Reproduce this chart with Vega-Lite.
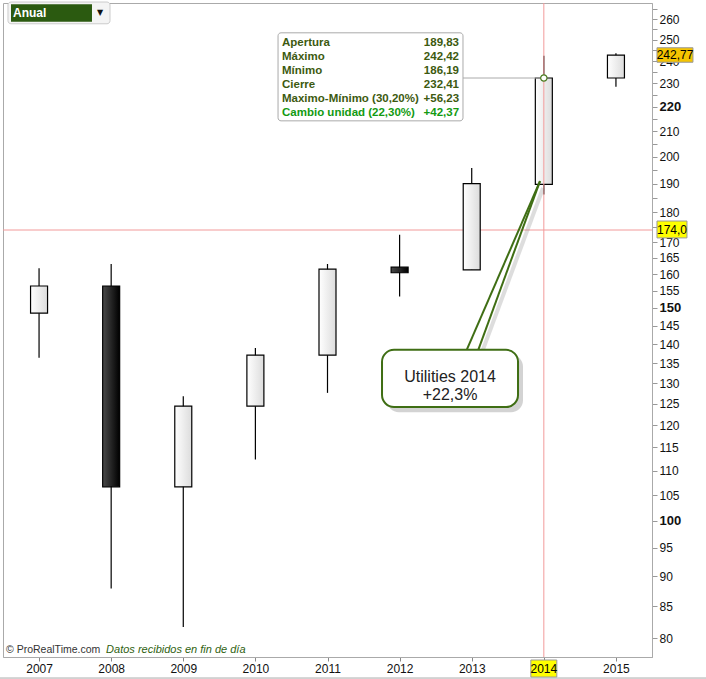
{
  "$schema": "https://vega.github.io/schema/vega-lite/v6.json",
  "width": 649,
  "height": 654,
  "autosize": {"type": "none"},
  "padding": {"left": 3, "top": 3, "right": 54, "bottom": 22},
  "background": "white",
  "config": {
    "view": {"stroke": "#aaaaaa", "strokeWidth": 1},
    "font": "Liberation Sans"
  },
  "layer": [
    {
      "data": {"values": [{}]},
      "mark": {"type": "rule", "color": "#f29a9a", "strokeWidth": 1},
      "encoding": {"y": {"datum": 174, "type": "quantitative"}}
    },
    {
      "data": {
        "name": "candles",
        "values": [
          {"year": 2007, "open": 148.5, "high": 161.8, "low": 136.4, "close": 156.4},
          {"year": 2008, "open": 156.4, "high": 163.1, "low": 87.9, "close": 106.7},
          {"year": 2009, "open": 106.7, "high": 126.8, "low": 81.7, "close": 124.4},
          {"year": 2010, "open": 124.4, "high": 139.0, "low": 112.4, "close": 137.1},
          {"year": 2011, "open": 137.1, "high": 163.1, "low": 127.6, "close": 161.5},
          {"year": 2012, "open": 162.1, "high": 172.4, "low": 153.3, "close": 160.4},
          {"year": 2013, "open": 161.3, "high": 195.8, "low": 161.3, "close": 190.04},
          {"year": 2014, "open": 189.83, "high": 242.42, "low": 186.19, "close": 232.41},
          {"year": 2015, "open": 232.41, "high": 243.6, "low": 228.6, "close": 242.77}
        ]
      },
      "layer": [
        {
          "mark": {"type": "rule", "color": "#000000", "strokeWidth": 1.2},
          "encoding": {
            "x": {
              "field": "year", "type": "quantitative", "title": null,
              "scale": {"domain": [2006.5, 2015.5], "nice": false, "zero": false, "padding": 0},
              "axis": {
                "title": null,
                "values": [2007, 2008, 2009, 2010, 2011, 2012, 2013, 2014, 2015],
                "format": "d",
                "labelExpr": "datum.value == 2014 ? '' : datum.label",
                "labelFont": "Liberation Sans",
                "labelFontSize": 12,
                "labelColor": "#111111",
                "labelPadding": 2,
                "labelFlush": false,
                "labelOverlap": false,
                "tickColor": "#888888",
                "tickSize": 4,
                "domainColor": "#aaaaaa",
                "grid": false
              }
            },
            "y": {
              "field": "low", "type": "quantitative", "title": null,
              "scale": {"type": "log", "domain": [77.16, 268.1], "nice": false, "zero": false, "padding": 0},
              "axis": {
                "title": null,
                "orient": "right",
                "values": [80, 85, 90, 95, 100, 105, 110, 115, 120, 125, 130, 135, 140, 145, 150, 155, 160, 165, 170, 175, 180, 185, 190, 195, 200, 205, 210, 215, 220, 225, 230, 235, 240, 245, 250, 255, 260, 265],
                "format": "d",
                "labelExpr": "(datum.value > 170 && datum.value % 10 != 0) ? '' : datum.label",
                "labelFont": "Liberation Sans",
                "labelFontSize": {"condition": {"test": "datum.value == 100 || datum.value == 150 || datum.value == 220", "value": 13}, "value": 12},
                "labelFontWeight": {"condition": {"test": "datum.value == 100 || datum.value == 150 || datum.value == 220", "value": "bold"}, "value": "normal"},
                "labelColor": "#111111",
                "labelPadding": 2,
                "labelOverlap": false,
                "labelBound": false,
                "labelFlush": false,
                "tickColor": "#999999",
                "tickSize": 5,
                "domainColor": "#aaaaaa",
                "grid": false
              }
            },
            "y2": {"field": "high"}
          }
        },
        {
          "transform": [{"filter": "datum.close >= datum.open"}],
          "mark": {
            "type": "bar", "size": 17, "stroke": "#000000", "strokeWidth": 1.2,
            "fill": {"gradient": "linear", "x1": 0, "y1": 0, "x2": 1, "y2": 0, "stops": [{"offset": 0, "color": "#ffffff"}, {"offset": 1, "color": "#dcdcdc"}]}
          },
          "encoding": {
            "x": {"field": "year", "type": "quantitative", "title": null},
            "y": {"field": "open", "type": "quantitative", "title": null},
            "y2": {"field": "close"}
          }
        },
        {
          "transform": [{"filter": "datum.close < datum.open"}],
          "mark": {
            "type": "bar", "size": 17, "stroke": "#000000", "strokeWidth": 1.2,
            "fill": {"gradient": "linear", "x1": 0, "y1": 0, "x2": 1, "y2": 0, "stops": [{"offset": 0, "color": "#4a4a4a"}, {"offset": 1, "color": "#000000"}]}
          },
          "encoding": {
            "x": {"field": "year", "type": "quantitative", "title": null},
            "y": {"field": "open", "type": "quantitative", "title": null},
            "y2": {"field": "close"}
          }
        }
      ]
    },
    {
      "data": {"values": [{}]},
      "mark": {"type": "rule", "color": "#f29a9a", "strokeWidth": 1},
      "encoding": {"x": {"datum": 2014, "type": "quantitative"}}
    },
    {
      "data": {"values": [{}]},
      "mark": {"type": "rule", "color": "#aaaaaa", "strokeWidth": 1},
      "encoding": {
        "x": {"datum": 2012.879, "type": "quantitative"},
        "x2": {"datum": 2014},
        "y": {"datum": 232.41, "type": "quantitative"}
      }
    },
    {
      "data": {"values": [{}]},
      "mark": {"type": "rect", "fill": "#ffffff", "stroke": "#aaaaaa", "strokeWidth": 1, "cornerRadius": 3},
      "encoding": {
        "x": {"datum": 2010.314, "type": "quantitative"},
        "x2": {"datum": 2012.879},
        "y": {"datum": 253.3, "type": "quantitative"},
        "y2": {"datum": 214.2}
      }
    },
    {
      "data": {"values": [{}]},
      "mark": {"type": "text", "align": "left", "baseline": "top", "fontSize": 11.5, "fontWeight": "bold", "lineHeight": 14, "color": "#3d5a10",
        "text": ["Apertura", "Máximo", "Mínimo", "Cierre", "Maximo-Mínimo (30,20%)"]},
      "encoding": {
        "x": {"datum": 2010.369, "type": "quantitative"},
        "y": {"datum": 251.3, "type": "quantitative"}
      }
    },
    {
      "data": {"values": [{}]},
      "mark": {"type": "text", "align": "right", "baseline": "top", "fontSize": 11.5, "fontWeight": "bold", "lineHeight": 14, "color": "#3d5a10",
        "text": ["189,83", "242,42", "186,19", "232,41", "+56,23"]},
      "encoding": {
        "x": {"datum": 2012.824, "type": "quantitative"},
        "y": {"datum": 251.3, "type": "quantitative"}
      }
    },
    {
      "data": {"values": [{}]},
      "mark": {"type": "text", "align": "left", "baseline": "top", "fontSize": 11.5, "fontWeight": "bold", "color": "#129a12", "text": "Cambio unidad (22,30%)"},
      "encoding": {
        "x": {"datum": 2010.369, "type": "quantitative"},
        "y": {"datum": 219.9, "type": "quantitative"}
      }
    },
    {
      "data": {"values": [{}]},
      "mark": {"type": "text", "align": "right", "baseline": "top", "fontSize": 11.5, "fontWeight": "bold", "color": "#129a12", "text": "+42,37"},
      "encoding": {
        "x": {"datum": 2012.824, "type": "quantitative"},
        "y": {"datum": 219.9, "type": "quantitative"}
      }
    },
    {
      "data": {"values": [{}]},
      "mark": {"type": "point", "shape": "circle", "size": 40, "filled": true, "fill": "#ffffff", "stroke": "#4a7a1e", "strokeWidth": 1.2, "opacity": 1},
      "encoding": {
        "x": {"datum": 2014, "type": "quantitative"},
        "y": {"datum": 232.41, "type": "quantitative"}
      }
    },
    {
      "data": {"values": [{}]},
      "mark": {"type": "rule", "color": "#777777", "strokeWidth": 4, "opacity": 0.25},
      "encoding": {
        "x": {"datum": 2013.143, "type": "quantitative"},
        "y": {"datum": 137.9, "type": "quantitative"},
        "x2": {"datum": 2013.989},
        "y2": {"datum": 188.5}
      }
    },
    {
      "data": {"values": [{}]},
      "mark": {"type": "rule", "color": "#3f6e14", "strokeWidth": 2},
      "encoding": {
        "x": {"datum": 2012.931, "type": "quantitative"},
        "y": {"datum": 138.5, "type": "quantitative"},
        "x2": {"datum": 2013.947},
        "y2": {"datum": 191.0}
      }
    },
    {
      "data": {"values": [{}]},
      "mark": {"type": "rule", "color": "#3f6e14", "strokeWidth": 2},
      "encoding": {
        "x": {"datum": 2013.091, "type": "quantitative"},
        "y": {"datum": 138.5, "type": "quantitative"},
        "x2": {"datum": 2013.947},
        "y2": {"datum": 191.0}
      }
    },
    {
      "data": {"values": [{}]},
      "mark": {"type": "rect", "fill": "#808080", "opacity": 0.35, "cornerRadius": 12},
      "encoding": {
        "x": {"datum": 2011.825, "type": "quantitative"},
        "x2": {"datum": 2013.711},
        "y": {"datum": 137.2, "type": "quantitative"},
        "y2": {"datum": 123.0}
      }
    },
    {
      "data": {"values": [{}]},
      "mark": {"type": "rect", "fill": "#ffffff", "stroke": "#3f6e14", "strokeWidth": 2, "cornerRadius": 12},
      "encoding": {
        "x": {"datum": 2011.756, "type": "quantitative"},
        "x2": {"datum": 2013.642},
        "y": {"datum": 138.5, "type": "quantitative"},
        "y2": {"datum": 124.2}
      }
    },
    {
      "data": {"values": [{}]},
      "mark": {"type": "text", "align": "center", "baseline": "middle", "fontSize": 16, "lineHeight": 18, "color": "#222222",
        "text": ["Utilities 2014", "+22,3%"]},
      "encoding": {
        "x": {"datum": 2012.699, "type": "quantitative"},
        "y": {"datum": 131.6, "type": "quantitative"}
      }
    },
    {
      "data": {"values": [{}]},
      "mark": {"type": "rect", "fill": "#f5c400", "stroke": "#999999", "strokeWidth": 1},
      "encoding": {
        "x": {"datum": 2015.569, "type": "quantitative"},
        "x2": {"datum": 2016.068},
        "y": {"datum": 246.2, "type": "quantitative"},
        "y2": {"datum": 239.5}
      }
    },
    {
      "data": {"values": [{}]},
      "mark": {"type": "text", "align": "center", "baseline": "middle", "fontSize": 12, "color": "#000000", "text": "242,77"},
      "encoding": {
        "x": {"datum": 2015.819, "type": "quantitative"},
        "y": {"datum": 242.77, "type": "quantitative"}
      }
    },
    {
      "data": {"values": [{}]},
      "mark": {"type": "rect", "fill": "#ffff00", "stroke": "#999999", "strokeWidth": 1},
      "encoding": {
        "x": {"datum": 2015.569, "type": "quantitative"},
        "x2": {"datum": 2015.985},
        "y": {"datum": 177.0, "type": "quantitative"},
        "y2": {"datum": 171.4}
      }
    },
    {
      "data": {"values": [{}]},
      "mark": {"type": "text", "align": "center", "baseline": "middle", "fontSize": 12, "color": "#000000", "text": "174,0"},
      "encoding": {
        "x": {"datum": 2015.777, "type": "quantitative"},
        "y": {"datum": 174, "type": "quantitative"}
      }
    },
    {
      "data": {"values": [{}]},
      "mark": {"type": "rect", "fill": "#ffff00", "stroke": "#999999", "strokeWidth": 1},
      "encoding": {
        "x": {"datum": 2013.82, "type": "quantitative"},
        "x2": {"datum": 2014.18},
        "y": {"datum": 76.72, "type": "quantitative"},
        "y2": {"datum": 74.27}
      }
    },
    {
      "data": {"values": [{}]},
      "mark": {"type": "text", "align": "center", "baseline": "middle", "fontSize": 12, "color": "#000000", "text": "2014"},
      "encoding": {
        "x": {"datum": 2014, "type": "quantitative"},
        "y": {"datum": 75.4, "type": "quantitative"}
      }
    },
    {
      "data": {"values": [{}]},
      "mark": {"type": "text", "align": "left", "baseline": "middle", "fontSize": 10.5, "color": "#333333", "text": "© ProRealTime.com"},
      "encoding": {
        "x": {"datum": 2006.542, "type": "quantitative"},
        "y": {"datum": 78.19, "type": "quantitative"}
      }
    },
    {
      "data": {"values": [{}]},
      "mark": {"type": "text", "align": "left", "baseline": "middle", "fontSize": 11, "fontStyle": "italic", "color": "#2f5f10", "text": "Datos recibidos en fin de día"},
      "encoding": {
        "x": {"datum": 2007.93, "type": "quantitative"},
        "y": {"datum": 78.19, "type": "quantitative"}
      }
    },
    {
      "data": {"values": [{}]},
      "mark": {"type": "rect", "fill": "#f4f4f4", "stroke": "#cccccc", "strokeWidth": 1, "cornerRadius": 3},
      "encoding": {
        "x": {"datum": 2006.569, "type": "quantitative"},
        "x2": {"datum": 2007.984},
        "y": {"datum": 268.6, "type": "quantitative"},
        "y2": {"datum": 257.7}
      }
    },
    {
      "data": {"values": [{}]},
      "mark": {"type": "rect", "fill": "#2b5a10"},
      "encoding": {
        "x": {"datum": 2006.611, "type": "quantitative"},
        "x2": {"datum": 2007.734},
        "y": {"datum": 267.5, "type": "quantitative"},
        "y2": {"datum": 258.7}
      }
    },
    {
      "data": {"values": [{}]},
      "mark": {"type": "text", "align": "left", "baseline": "middle", "fontSize": 12, "fontWeight": "bold", "color": "#ffffff", "text": "Anual"},
      "encoding": {
        "x": {"datum": 2006.639, "type": "quantitative"},
        "y": {"datum": 263.2, "type": "quantitative"}
      }
    },
    {
      "data": {"values": [{}]},
      "mark": {"type": "text", "align": "center", "baseline": "middle", "fontSize": 8, "font": "DejaVu Sans", "color": "#111111", "text": "▼"},
      "encoding": {
        "x": {"datum": 2007.845, "type": "quantitative"},
        "y": {"datum": 263.2, "type": "quantitative"}
      }
    },
    {
      "data": {"values": [{}]},
      "mark": {"type": "rule", "color": "#aaaaaa", "strokeWidth": 1},
      "encoding": {
        "x": {"datum": 2006.458, "type": "quantitative"},
        "x2": {"datum": 2016.249},
        "y": {"datum": 74.13, "type": "quantitative"}
      }
    }
  ]
}
